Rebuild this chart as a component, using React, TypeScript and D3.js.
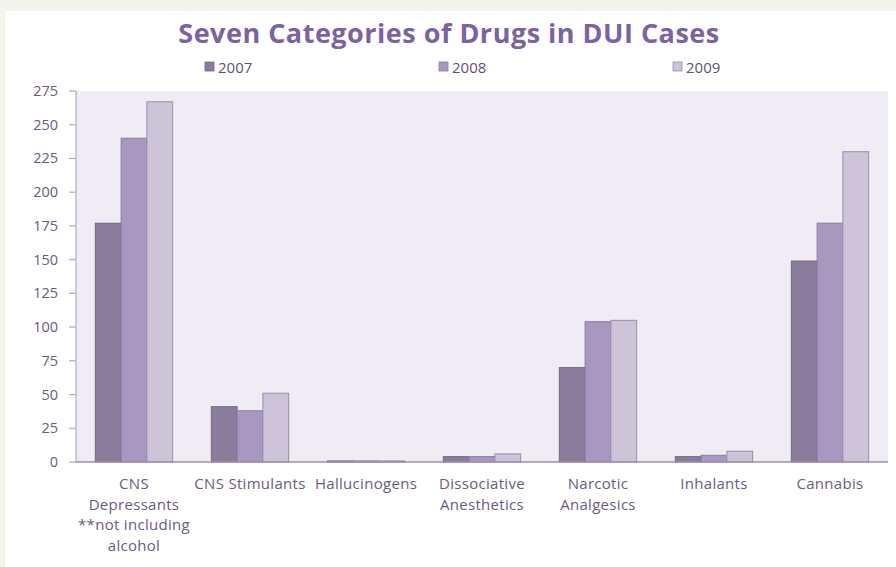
import React from "react";
import * as d3 from "d3";

const categories: string[][] = [
  ["CNS", "Depressants", "**not including", "alcohol"],
  ["CNS Stimulants"],
  ["Hallucinogens"],
  ["Dissociative", "Anesthetics"],
  ["Narcotic", "Analgesics"],
  ["Inhalants"],
  ["Cannabis"],
];
const seriesNames = ["2007", "2008", "2009"];
const values2007 = [177, 41, 0.8, 4, 70, 4, 149];
const values2008 = [240, 38, 0.8, 4, 104, 5, 177];
const values2009 = [267, 51, 0.8, 6, 105, 8, 230];
const yTicks = [0, 25, 50, 75, 100, 125, 150, 175, 200, 225, 250, 275];

const colors = ["#8a7c9b", "#a898c0", "#cdc4da"];
const strokes = ["#766889", "#8c7ca6", "#9a8cb0"];

export default function App() {
  const W = 896, H = 567;
  const left = 76, right = 888, top = 91, bottom = 462;
  const series = [values2007, values2008, values2009];
  const x0 = d3.scaleBand<number>().domain(d3.range(categories.length)).range([left, right]).paddingInner(0).paddingOuter(0);
  const bw = x0.bandwidth() / 4.5;
  const y = d3.scaleLinear().domain([0, 275]).range([bottom, top]);
  const font = "'Open Sans', sans-serif";
  const legendX = [205, 439, 673];

  return (
    <svg width={W} height={H} style={{ position: "absolute", left: 0, top: 0, display: "block" }}>
      <rect x={0} y={0} width={W} height={H} fill="#f4f4ec" />
      <rect x={5} y={11} width={W - 5} height={H - 11} fill="#ffffff" />
      <text x={449} y={43} textAnchor="middle" fontFamily={font} fontWeight="bold" fontSize={27} fill="#7b62a0" letterSpacing={0.5}>
        Seven Categories of Drugs in DUI Cases
      </text>
      {seriesNames.map((s, i) => (
        <g key={s}>
          <rect x={legendX[i]} y={62} width={9} height={9} fill={colors[i]} stroke={strokes[i]} strokeWidth={0.8} />
          <text x={legendX[i] + 13} y={73} fontFamily={font} fontSize={15} fill="#5f5075">{s}</text>
        </g>
      ))}
      <rect x={left} y={top} width={right - left} height={bottom - top} fill="#efedf3" />
      {categories.map((c, ci) =>
        series.map((vals, si) => {
          const bx = (x0(ci) as number) + bw * 0.75 + si * bw;
          const by = y(vals[ci]);
          return (
            <rect key={ci + "-" + si} x={bx} y={by} width={bw} height={bottom - by}
              fill={colors[si]} stroke={strokes[si]} strokeWidth={1} />
          );
        })
      )}
      <line x1={left} x2={left} y1={top} y2={bottom} stroke="#b3a9c0" strokeWidth={1.2} />
      {yTicks.map((t) => (
        <g key={t}>
          <line x1={left - 7} x2={left} y1={y(t)} y2={y(t)} stroke="#b3a9c0" strokeWidth={1.2} />
          <text x={left - 18} y={y(t) + 5} textAnchor="end" fontFamily={font} fontSize={14.5} fill="#6a5b80">{t}</text>
        </g>
      ))}
      <line x1={left} x2={right} y1={bottom} y2={bottom} stroke="#9d90ad" strokeWidth={1.5} />
      {categories.map((lines, ci) => (
        <text key={ci} textAnchor="middle" fontFamily={font} fontSize={15} fill="#6b5b80" letterSpacing={0.3}>
          {lines.map((l, li) => (
            <tspan key={li} x={(x0(ci) as number) + x0.bandwidth() / 2} y={489 + li * 20.5}>{l}</tspan>
          ))}
        </text>
      ))}
    </svg>
  );
}
